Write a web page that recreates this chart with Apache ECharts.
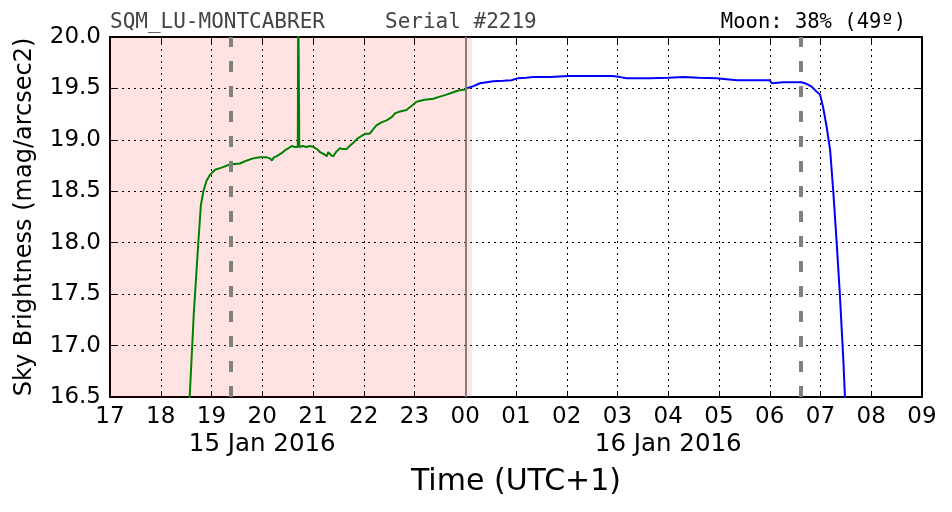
<!DOCTYPE html>
<html>
<head>
<meta charset="utf-8">
<script src="https://cdn.jsdelivr.net/npm/echarts@6/dist/echarts.min.js"></script>
<style>html,body{margin:0;padding:0;background:#fff}#c{width:952px;height:512px}</style>
</head>
<body>
<div id="c"></div>
<script>
// Hours since 00:00 of 15 Jan 2016 (UTC+1)
const greenTimes = [18.56,18.65,18.74,18.79,18.84,18.90,18.97,19.07,19.20,19.36,19.56,19.70,19.82,19.95,20.09,20.15,20.19,20.23,20.28,20.38,20.45,20.52,20.58,20.64,20.70,20.71,20.73,20.80,20.87,20.94,21.01,21.08,21.14,21.22,21.27,21.30,21.33,21.36,21.40,21.45,21.53,21.58,21.66,21.72,21.79,21.87,21.96,22.04,22.12,22.18,22.25,22.35,22.45,22.55,22.62,22.68,22.76,22.84,22.94,23.04,23.20,23.37,23.50,23.63,23.75,23.86,24.01];
const greenValues = [16.40,17.30,18.00,18.36,18.50,18.60,18.66,18.71,18.73,18.76,18.77,18.80,18.82,18.83,18.83,18.82,18.80,18.83,18.84,18.87,18.90,18.92,18.94,18.93,18.93,20.40,18.93,18.94,18.93,18.94,18.93,18.91,18.88,18.86,18.84,18.88,18.87,18.85,18.84,18.88,18.92,18.91,18.91,18.94,18.97,19.01,19.04,19.06,19.06,19.10,19.14,19.17,19.19,19.22,19.26,19.27,19.28,19.29,19.33,19.37,19.39,19.40,19.42,19.44,19.46,19.48,19.49];
const blueTimes = [24.01,24.15,24.29,24.42,24.55,24.75,24.91,25.04,25.20,25.34,25.50,25.67,25.85,26.03,26.32,26.60,26.91,27.05,27.18,27.40,27.64,28.00,28.30,28.60,28.95,29.15,29.35,29.70,30.00,30.04,30.15,30.27,30.45,30.63,30.72,30.82,30.92,30.99,31.05,31.12,31.19,31.25,31.32,31.38,31.45,31.48,31.50];
const blueValues = [19.50,19.52,19.55,19.56,19.57,19.575,19.58,19.60,19.605,19.61,19.61,19.61,19.615,19.62,19.62,19.62,19.62,19.61,19.60,19.60,19.60,19.605,19.61,19.605,19.60,19.59,19.58,19.58,19.58,19.55,19.555,19.56,19.56,19.56,19.545,19.52,19.47,19.44,19.32,19.13,18.90,18.51,17.99,17.51,16.86,16.52,16.30];
const nightBand = [17, 24.13];
const midnightLine = 24.0;
const twilightLines = [19.38, 30.62];
const xTicks = [17,18,19,20,21,22,23,24,25,26,27,28,29,30,31,32,33];
const dateLabels = {20: '15 Jan 2016', 28: '16 Jan 2016'};
const yTicks = [16.5,17.0,17.5,18.0,18.5,19.0,19.5,20.0];
const titleLeft = 'SQM_LU-MONTCABRER';
const titleMid = 'Serial #2219';
const titleRight = 'Moon: 38% (49º)';

const chart = echarts.init(document.getElementById('c'));
const font = 'DejaVu Sans';
const zip = (a, b) => a.map((v, i) => [v, b[i]]);
const fmtHour = v => {
  const h = String(Math.round(v) % 24).padStart(2, '0');
  return dateLabels[v] ? '{h|' + h + '}\n{d|' + dateLabels[v] + '}' : '{h|' + h + '}';
};
const splitStyle = {show: true, lineStyle: {color: '#000', type: [2, 4], width: 1}};
const axisLine = {show: true, lineStyle: {color: '#000', width: 2}};
const tick = {show: true, inside: true, length: 6, lineStyle: {color: '#000', width: 1}};

chart.setOption({
  animation: false,
  grid: {left: 110, right: 30, top: 37, bottom: 115},
  xAxis: [{
    type: 'value', min: xTicks[0], max: xTicks[xTicks.length - 1], interval: 1,
    position: 'bottom',
    name: 'Time (UTC+1)', nameLocation: 'middle', nameGap: 70,
    nameTextStyle: {fontFamily: font, fontSize: 30, color: '#000'},
    axisLine, axisTick: tick, splitLine: splitStyle,
    axisLabel: {formatter: fmtHour, fontFamily: font, fontSize: 23, color: '#000', margin: 6,
      rich: {
        h: {fontFamily: font, fontSize: 23, color: '#000', lineHeight: 28},
        d: {fontFamily: font, fontSize: 24.5, color: '#000', lineHeight: 28}
      }}
  }, {
    type: 'value', min: xTicks[0], max: xTicks[xTicks.length - 1], interval: 1,
    position: 'top', axisLine, axisTick: tick, splitLine: {show: false}, axisLabel: {show: false}
  }],
  yAxis: [{
    type: 'value', min: yTicks[0], max: yTicks[yTicks.length - 1], interval: 0.5,
    name: 'Sky Brightness (mag/arcsec2)', nameLocation: 'middle', nameGap: 73,
    nameTextStyle: {fontFamily: font, fontSize: 24, color: '#000'},
    axisLine, axisTick: tick, splitLine: splitStyle,
    axisLabel: {formatter: v => v.toFixed(1), fontFamily: font, fontSize: 23, color: '#000', margin: 9}
  }, {
    type: 'value', min: yTicks[0], max: yTicks[yTicks.length - 1], interval: 0.5,
    position: 'right', axisLine, axisTick: tick, splitLine: {show: false}, axisLabel: {show: false}
  }],
  graphic: [
    {type: 'text', left: 110, top: 12, style: {text: titleLeft, fontFamily: 'DejaVu Sans Mono', fontSize: 21, fill: '#444'}},
    {type: 'text', left: 385, top: 12, style: {text: titleMid, fontFamily: 'DejaVu Sans Mono', fontSize: 21, fill: '#444'}},
    {type: 'text', right: 46, top: 12, style: {text: titleRight, fontFamily: 'DejaVu Sans Mono', fontSize: 20.5, fill: '#000'}}
  ],
  series: [{
    type: 'line', data: [], silent: true,
    markArea: {silent: true, itemStyle: {color: 'rgba(255,0,0,0.11)'}, data: [[{xAxis: nightBand[0]}, {xAxis: nightBand[1]}]]},
    markLine: {silent: true, symbol: 'none', label: {show: false},
      data: [
        {xAxis: midnightLine, lineStyle: {color: '#7f7f7f', width: 2, type: 'solid'}},
        ...twilightLines.map(v => ({xAxis: v, lineStyle: {color: '#808080', width: 4, type: [11, 14]}}))
      ]}
  }, {
    type: 'line', data: zip(greenTimes, greenValues), showSymbol: false, clip: true,
    lineStyle: {color: '#008000', width: 2}, z: 3
  }, {
    type: 'line', data: zip(blueTimes, blueValues), showSymbol: false, clip: true,
    lineStyle: {color: '#0000ff', width: 2}, z: 3
  }]
});
</script>
</body>
</html>
